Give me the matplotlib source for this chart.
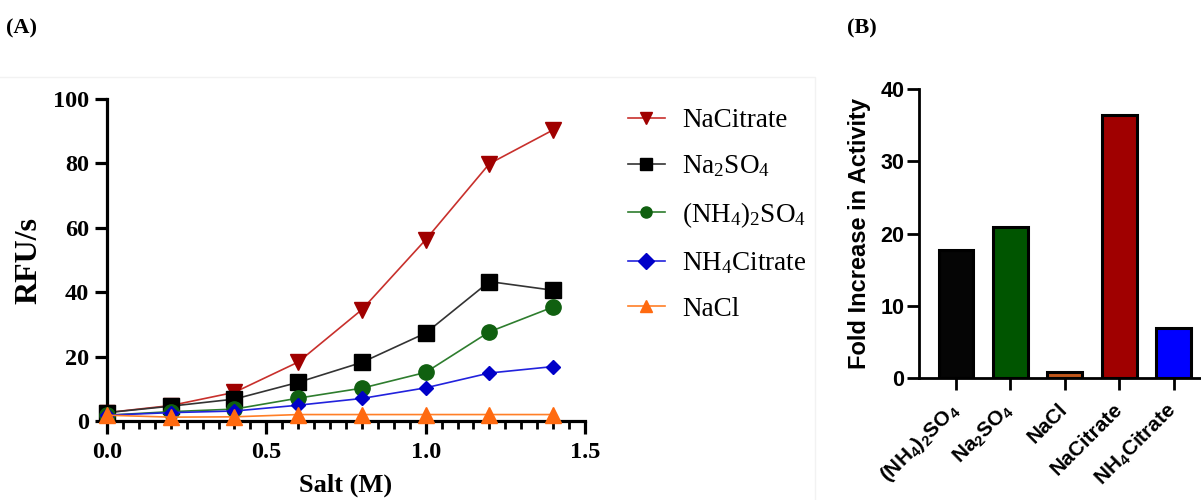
import matplotlib
matplotlib.use('Agg')
import matplotlib.pyplot as plt
from matplotlib.ticker import MultipleLocator
from matplotlib.patches import Rectangle

# ---------------- data ----------------
salt = [0.0, 0.2, 0.4, 0.6, 0.8, 1.0, 1.2, 1.4]
na_citrate = [2.6, 4.8, 8.9, 18.3, 34.6, 56.3, 79.9, 90.4]
na2so4 = [2.6, 4.6, 6.8, 12.0, 18.2, 27.3, 43.3, 40.6]
nh4_2so4 = [1.8, 2.9, 3.7, 7.1, 10.2, 15.1, 27.7, 35.4]
nh4_citrate = [1.8, 2.6, 3.1, 4.9, 7.0, 10.3, 14.9, 16.9]
nacl = [1.8, 1.2, 1.3, 2.0, 2.0, 2.0, 2.0, 2.0]

line_labels = ['NaCitrate', r'Na$\mathregular{_2}$SO$\mathregular{_4}$',
               r'(NH$\mathregular{_4}$)$\mathregular{_2}$SO$\mathregular{_4}$',
               r'NH$\mathregular{_4}$Citrate', 'NaCl']

bar_labels = [r'(NH$\mathregular{_4}$)$\mathregular{_2}$SO$\mathregular{_4}$',
              r'Na$\mathregular{_2}$SO$\mathregular{_4}$', 'NaCl', 'NaCitrate',
              r'NH$\mathregular{_4}$Citrate']
fold_increase = [17.7, 20.9, 0.8, 36.4, 6.9]

x_ticks_A = [0.0, 0.5, 1.0, 1.5]
x_ticklabels_A = ['0.0', '0.5', '1.0', '1.5']
y_ticks_A = [0, 20, 40, 60, 80, 100]
y_ticks_B = [0, 10, 20, 30, 40]

# ---------------- figure ----------------
W, H = 1201, 500
fig = plt.figure(figsize=(W / 100, H / 100), dpi=100)

serif = 'Liberation Serif'
sans = 'Liberation Sans'

# faint frame of panel A image
fig.add_artist(Rectangle((-0.01, -0.05), 815 / W + 0.01, 1 - 77 / H + 0.05,
                         transform=fig.transFigure, fill=False,
                         edgecolor='#f2f2f2', lw=1.0))

# ---------------- panel A ----------------
axA = fig.add_axes([107 / W, 1 - 421 / H, (585 - 107) / W, (421 - 99) / H])
styles = [
    (na_citrate, '#c8302c', '#a00000', 'v', 11),
    (na2so4, '#333333', '#000000', 's', 11),
    (nh4_2so4, '#2e7d2e', '#106010', 'o', 11),
    (nh4_citrate, '#2222dd', '#0000c8', 'D', 7.5),
    (nacl, '#ff7f27', '#ff6a10', '^', 11),
]
for (vals, lc, mc, mk, ms), lab in zip(styles, line_labels):
    axA.plot(salt, vals, color=lc, lw=1.2, marker=mk, markersize=ms,
             markerfacecolor=mc, markeredgecolor=mc, label=lab, clip_on=False,
             zorder=3)

axA.set_xlim(0, 1.5)
axA.set_ylim(0, 100)
axA.xaxis.set_minor_locator(MultipleLocator(0.05))
for s in ['top', 'right']:
    axA.spines[s].set_visible(False)
for s in ['left', 'bottom']:
    axA.spines[s].set_linewidth(2.3)
axA.tick_params(axis='both', which='major', direction='out', length=9,
                width=2.3, pad=4)
axA.tick_params(axis='x', which='minor', direction='out', length=5.5, width=2.0)
axA.tick_params(axis='x', which='major', pad=6)
axA.set_xticks(x_ticks_A)
axA.set_xticklabels(x_ticklabels_A, fontfamily=serif,
                    fontweight='bold', fontsize=17.5)
axA.set_yticks(y_ticks_A)
axA.set_yticklabels([str(v) for v in y_ticks_A], fontfamily=serif,
                    fontweight='bold', fontsize=17.5)
axA.set_ylabel('RFU/s', fontfamily=serif, fontweight='bold', fontsize=23,
               labelpad=7)
axA.set_xlabel('Salt (M)', fontfamily=serif, fontweight='bold', fontsize=19,
               labelpad=8)

leg = fig.legend(loc='upper left', bbox_to_anchor=(628 / W, 1 - 108 / H),
                 bbox_transform=fig.transFigure, frameon=False,
                 prop={'family': serif, 'size': 19.5}, handlelength=1.35,
                 handletextpad=0.65, labelspacing=0.76, borderpad=0,
                 borderaxespad=0)
for h in leg.legend_handles:
    h.set_markersize(8)

# ---------------- panel B ----------------
axB = fig.add_axes([919 / W, 1 - 378 / H, (W - 919) / W, (378 - 89) / H])
bar_colors = ['#050505', '#005500', '#c0561a', '#a00000', '#0000ff']
xpos = list(range(len(bar_labels)))
axB.bar(xpos, fold_increase, width=0.64, color=bar_colors,
        edgecolor='black', linewidth=2.2, zorder=3)
axB.set_xlim(-0.68, 4.5)
axB.set_ylim(0, 40)
axB.set_yticks(y_ticks_B)
axB.set_yticklabels([str(v) for v in y_ticks_B], fontfamily=sans,
                    fontweight='bold', fontsize=15.5)
axB.set_xticks(xpos)
axB.set_xticklabels(bar_labels, fontfamily=sans, fontweight='bold',
                    fontsize=15, rotation=45, ha='right', va='center',
                    rotation_mode='anchor')
for s in ['top', 'right']:
    axB.spines[s].set_visible(False)
for s in ['left', 'bottom']:
    axB.spines[s].set_linewidth(2.0)
axB.tick_params(axis='both', direction='out', length=8.5, width=2.0)
axB.tick_params(axis='x', pad=12)
axB.tick_params(axis='y', pad=2)
axB.set_ylabel('Fold Increase in Activity', fontfamily=sans,
               fontweight='bold', fontsize=17, labelpad=7)

# panel labels
fig.text(6 / W, 1 - 28 / H, '(A)', fontfamily=serif, fontweight='bold',
         fontsize=16, va='center', ha='left')
fig.text(847 / W, 1 - 28 / H, '(B)', fontfamily=serif, fontweight='bold',
         fontsize=16, va='center', ha='left')

fig.savefig('out.png', dpi=100)
